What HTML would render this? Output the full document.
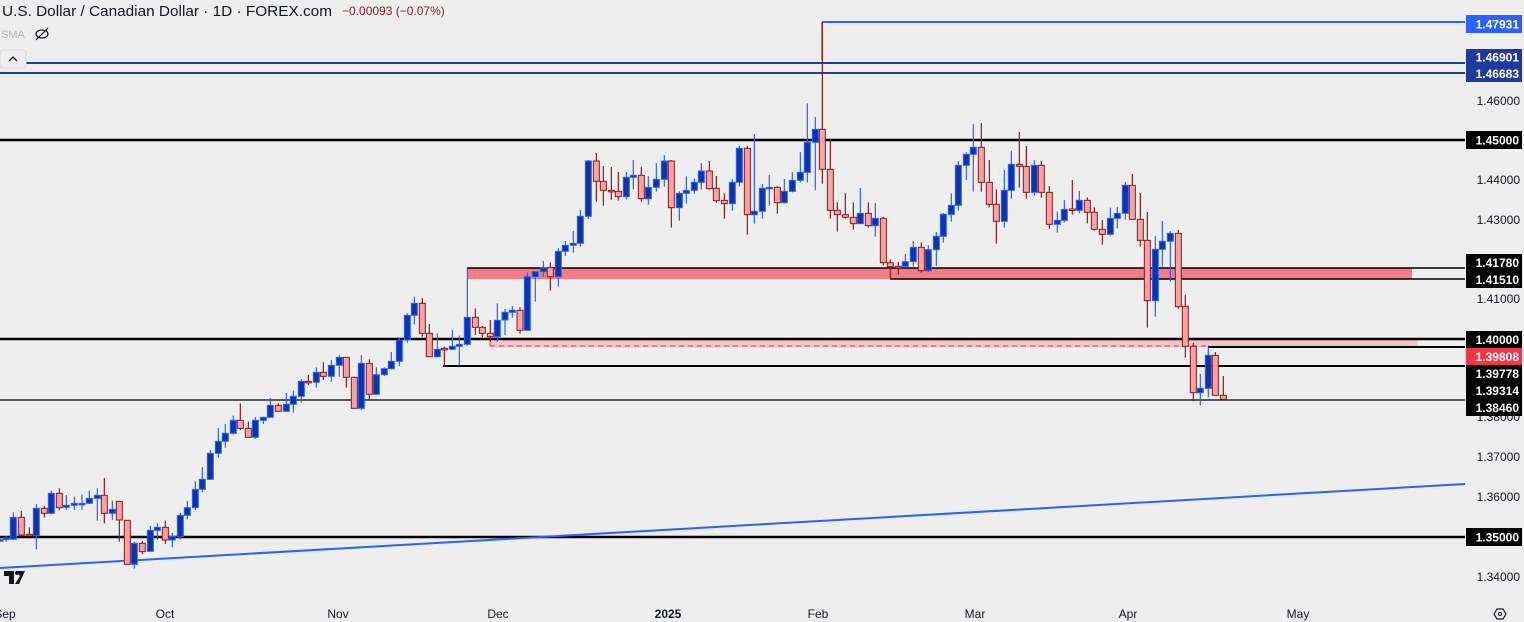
<!DOCTYPE html>
<html><head><meta charset="utf-8"><style>
html,body{margin:0;padding:0;background:#eeeeee;}
body{width:1524px;height:622px;overflow:hidden;position:relative;font-family:"Liberation Sans",sans-serif;}
svg{position:absolute;left:0;top:0;}
</style></head><body>
<svg id="s" width="1524" height="622" xmlns="http://www.w3.org/2000/svg">
<rect width="1524" height="622" fill="#eeeeee"/>
<g id="bg"></g>
<g id="c"></g>
<g id="fg"></g>
</svg>
<script>
const NS="http://www.w3.org/2000/svg";
function el(p,t,a,txt){const e=document.createElementNS(NS,t);for(const k in a)e.setAttribute(k,a[k]);if(txt!==undefined)e.textContent=txt;document.getElementById(p).appendChild(e);return e;}
el('bg','rect',{x:467,y:268,width:945,height:11,fill:'#f37b84'});
el('bg','rect',{x:490,y:339,width:928,height:8,fill:'#f2c4cc'});
el('bg','line',{x1:490,y1:346,x2:1208,y2:346,stroke:'#f23645','stroke-width':1,'stroke-dasharray':'5,4'});
el('bg','line',{x1:490,y1:339,x2:490,y2:346,stroke:'#f23645','stroke-width':1});
const L=[[0,1465,63,2,'#1e40a0'],[0,1465,73,2,'#1e40a0'],[822,1465,22,2,'#2962ff'],[0,1465,140,2.4,'#000'],
[467,1465,268,1.5,'#000'],[890,1465,279,1.5,'#000'],[0,1465,339,2.4,'#000'],[1208,1465,347,2,'#000'],
[443,1465,366,2,'#000'],[0,1465,400,1.2,'#000'],[0,1465,537,2.4,'#000']];
L.forEach(l=>el('bg','line',{x1:l[0],y1:l[2],x2:l[1],y2:l[2],stroke:l[4],'stroke-width':l[3]}));
el('bg','line',{x1:0,y1:568,x2:1465,y2:484,stroke:'#2962ff','stroke-width':2});
el('bg','line',{x1:822,y1:22,x2:822,y2:60,stroke:'#8b1a1a','stroke-width':1.2});
const Z1=[[0,779,781,775,785,1],[18,774,776,768,785,1],[40,778,712,697,778,1],[64,712,765,693,770,0],[88,763,764,742,770,0],[109,767,685,672,808,1],[133,685,700,678,712,0],[154,700,640,632,703,1],[178,640,683,625,690,0],[199,682,676,645,690,1],[223,676,670,650,690,1],[246,671,670,643,690,1],[268,670,655,632,672,1],[292,655,646,625,722,1],[313,646,700,594,730,0],[337,700,688,662,720,1],[358,664,720,664,785,0],[382,721,853,721,853,0],[403,853,790,785,866,1],[427,790,815,783,822,0],[451,814,751,738,814,1],[472,751,742,730,780,1],[496,742,780,722,792,0],[517,780,769,759,802,1],[541,770,706,699,778,1],[562,706,683,663,718,1],[586,683,628,604,690,1],[607,628,598,561,637,1],[631,598,520,510,600,1],[655,520,484,444,533,1],[676,484,460,432,503,1],[700,460,421,407,463,1],[721,421,445,370,450,0],[745,445,472,425,472,0],[766,472,421,411,476,1],[790,421,412,410,432,1],[811,412,376,354,412,1],[835,376,394,370,394,0],[859,394,373,339,394,1],[880,373,349,332,398,1],[904,349,304,297,368,1],[925,304,306,285,315,0],[949,307,277,262,323,1],[970,277,289,247,300,0],[994,289,256,240,305,1],[1018,256,232,226,290,1],[1039,232,292,232,323,0],[1063,292,385,290,385,0],[1084,385,250,225,390,1],[1108,250,343,238,360,0],[1129,343,284,262,345,1],[1153,284,266,262,288,1],[1174,266,244,216,268,1],[1198,244,180,172,258,1],[1222,180,106,100,188,1],[1243,106,70,50,133,1],[1267,70,160,54,170,0],[1288,160,230,132,230,0],[1312,230,208,160,232,1],[1333,205,207,200,258,0],[1357,208,199,150,210,1],[1378,199,193,167,257,1],[1402,193,112,-36,197,1],[1426,112,142,85,165,0],[1447,142,160,138,172,0],[1471,160,170,120,185,0],[1492,170,121,70,185,1]];
const Z2=[[165,690,667,657,735,1],[187,667,661,648,683,1],[210,661,721,651,731,0],[232,721,560,548,721,1],[256,560,545,545,635,1],[280,545,533,513,560,1],[301,533,560,517,602,0],[325,560,484,474,590,1],[346,484,466,453,497,1],[370,466,460,423,488,1],[391,460,379,360,470,1],[415,379,213,210,386,1],[439,213,274,189,335,0],[460,274,301,228,347,0],[484,301,303,231,329,0],[505,304,320,246,332,0],[529,320,262,246,329,1],[550,262,256,210,298,1],[574,256,326,231,335,0],[595,326,292,259,344,1],[619,292,268,219,305,1],[643,268,213,195,290,1],[664,213,353,210,413,0],[688,353,310,304,392,1],[709,310,301,259,341,1],[733,301,277,265,311,1],[754,277,243,219,299,1],[778,243,296,213,299,0],[799,295,332,258,338,0],[823,331,341,310,386,0],[847,341,277,268,362,1],[868,277,175,168,290,1],[892,175,374,168,434,0],[913,374,364,132,401,1],[937,364,295,282,386,1],[958,294,292,255,347,1],[982,292,338,289,371,0],[1003,338,304,267,341,1],[1027,304,271,246,307,1],[1051,271,247,186,277,1],[1072,247,157,40,277,1],[1096,157,118,81,301,1],[1117,118,238,-204,281,0],[1141,238,361,148,386,0],[1162,361,374,337,425,0],[1186,374,382,310,386,0],[1210,382,401,337,419,0],[1231,401,370,294,401,1],[1255,370,407,337,413,0],[1276,407,385,339,440,1],[1300,385,518,381,527,0],[1321,518,530,508,568,0],[1345,529,531,516,554,0]];
const Z3=[[76,469,455,432,470,1],[100,455,412,393,470,1],[124,412,482,397,488,0],[145,482,419,406,486,1],[169,419,379,366,468,1],[190,379,313,309,398,1],[214,313,286,250,335,1],[235,286,166,153,302,1],[259,166,133,127,210,1],[280,133,112,42,245,1],[304,112,217,39,245,0],[328,217,283,150,292,0],[349,283,334,238,401,0],[373,334,241,180,353,1],[394,241,163,123,266,1],[418,163,169,66,233,0],[439,169,247,108,266,0],[463,247,166,150,257,1],[484,166,247,153,263,0],[508,247,343,228,356,0],[532,343,331,305,368,1],[553,331,298,270,337,1],[577,297,299,210,314,0],[598,301,271,243,310,1],[622,271,307,262,340,0],[643,307,358,292,362,0],[667,358,373,330,404,0],[691,373,325,293,377,1],[712,325,310,291,355,1],[736,310,226,216,329,1],[757,226,328,192,328,0],[781,328,391,249,410,0],[802,391,572,306,653,0],[826,572,418,378,620,1],[847,418,394,333,470,1],[871,394,370,363,515,1],[895,370,590,360,596,0],[916,589,709,555,743,0],[940,709,848,699,874,0],[961,848,835,792,886,1],[985,835,736,710,862,1],[1006,736,856,726,856,0],[1030,856,868,798,868,0]];
function draw(arr,ox,oy){arr.forEach(d=>{const x=d[0]/3+ox;const y=v=>v/3+oy;
 const up=d[5];const top=Math.min(y(d[1]),y(d[2]));let h=Math.abs(y(d[1])-y(d[2]));if(h<1.5)h=1.5;
 el('c','line',{x1:x,y1:y(d[3]),x2:x,y2:y(d[4]),stroke:up?'#2962ff':'#8b1a1a','stroke-width':1.2});
 el('c','rect',{x:x-3,y:top,width:6,height:h,fill:up?'#0d35a6':'#f7a3a6',stroke:up?'#2962ff':'#8b1a1a','stroke-width':1});
});}
draw(Z1,0,280);draw(Z2,450,90);draw(Z3,880,110);
const G=[['1.46000',101],['1.44000',180],['1.43000',220],['1.41000',299],['1.38000',417],['1.37000',457],['1.36000',497],['1.34000',577]];
G.forEach(g=>el('fg','text',{x:1520,y:g[1]+4,'font-size':12,fill:'#131722','text-anchor':'end'},g[0]));
const B=[['1.47931',15,18,'#2962ff'],['1.46901',49,16,'#1e3a9e'],['1.46683',65,17,'#1e3a9e'],['1.45000',131,18,'#000'],['1.41780',254,17,'#000'],['1.41510',271,17,'#000'],['1.40000',331,17,'#000'],['1.39808',348,17,'#f23645'],['1.39778',365,17,'#000'],['1.39314',382,17,'#000'],['1.38460',399,17,'#000'],['1.35000',528,18,'#000']];
B.forEach(b=>{el('fg','rect',{x:1466,y:b[1],width:56,height:b[2],fill:b[3]});el('fg','text',{x:1519,y:b[1]+b[2]/2+4.5,'font-size':12,'font-weight':'bold',fill:'#fff','text-anchor':'end'},b[0]);});
const M=[['Sep',5],['Oct',165],['Nov',338],['Dec',498],['2025',668],['Feb',818],['Mar',975],['Apr',1128],['May',1298]];
M.forEach(m=>el('fg','text',{x:m[1],y:618,'font-size':12,fill:'#131722','text-anchor':'middle','font-weight':m[0]=='2025'?'bold':'normal'},m[0]));
el('fg','text',{x:2,y:16,'font-size':15,fill:'#131722',textLength:330,lengthAdjust:'spacingAndGlyphs'},'U.S. Dollar / Canadian Dollar · 1D · FOREX.com');
el('fg','text',{x:342,y:15,'font-size':12,fill:'#8b1a1a'},'−0.00093 (−0.07%)');
el('fg','text',{x:1,y:38,'font-size':11,fill:'#b2b5be'},'SMA');
el('fg','ellipse',{cx:42,cy:34,rx:6,ry:4,fill:'none',stroke:'#131722','stroke-width':1.2});
el('fg','line',{x1:36,y1:40,x2:48,y2:28,stroke:'#131722','stroke-width':1.2});
el('fg','rect',{x:0,y:50,width:26,height:18,rx:3,fill:'#eeeeee',stroke:'#d8d8d8'});
el('fg','path',{d:'M9 61 L13 57 L17 61',fill:'none',stroke:'#131722','stroke-width':1.3});
el('fg','path',{d:'M4 571 H14 V584 H9 V576 H4 Z M16 571 H25 L19 584 H15 L20 576 Z',fill:'#131722'});
el('fg','circle',{cx:17,cy:573,r:2,fill:'#131722'});
el('fg','path',{d:'M1494 614 L1497 609 L1503 609 L1506 614 L1503 619 L1497 619 Z',fill:'none',stroke:'#131722','stroke-width':1.2});
el('fg','circle',{cx:1500,cy:614,r:1.6,fill:'none',stroke:'#131722'});
</script>
</body></html>
